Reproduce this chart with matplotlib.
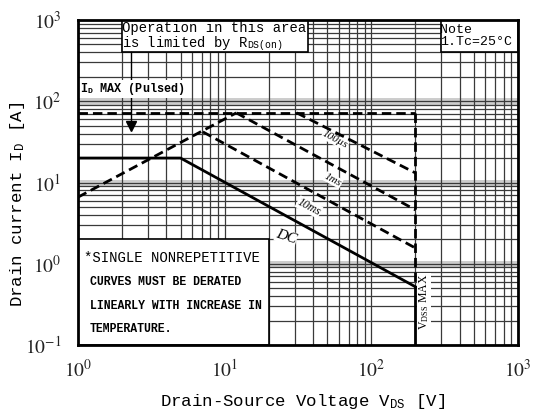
import matplotlib
matplotlib.use("Agg")
import matplotlib.pyplot as plt
from matplotlib.ticker import LogLocator, NullFormatter
from matplotlib.patches import Rectangle

# ---------------- data ----------------
rds_v = [1, 12]
rds_i = [6.6, 72]
id_max_pulsed = 72
vdss_max = 200

us100_v = [31, 200]
us100_i = [72, 13.1]
ms1_v = [12, 200]
ms1_i = [72, 4.6]
ms10_v = [7.1, 200]
ms10_i = [42, 1.56]
dc_v = [1, 5, 200]
dc_i = [20, 20, 0.52]

x_ticks = [1, 10, 100, 1000]
x_tick_labels = [r"$10^{0}$", r"$10^{1}$", r"$10^{2}$", r"$10^{3}$"]
y_ticks = [0.1, 1, 10, 100, 1000]
y_tick_labels = [r"$10^{-1}$", r"$10^{0}$", r"$10^{1}$", r"$10^{2}$", r"$10^{3}$"]

plt.rcParams['mathtext.fontset'] = 'stix'
MONO = 'Liberation Mono'

fig = plt.figure(figsize=(5.33, 4.11), dpi=100)
ax = fig.add_axes([78/533, 66/411, 440/533, 325/411])
ax.set_xscale('log')
ax.set_yscale('log')
ax.set_xlim(1, 1000)
ax.set_ylim(0.1, 1000)

# grid
ax.xaxis.set_minor_locator(LogLocator(base=10, subs=range(2, 10)))
ax.yaxis.set_minor_locator(LogLocator(base=10, subs=range(2, 10)))
ax.xaxis.set_minor_formatter(NullFormatter())
ax.yaxis.set_minor_formatter(NullFormatter())
for yv in y_ticks[1:-1]:
    ax.axhline(yv, color='#cccccc', lw=5, zorder=0.3)
ax.grid(which='both', color='#3a3a3a', lw=0.9, zorder=0.5)
ax.set_axisbelow(True)

ax.set_xticks(x_ticks)
ax.set_xticklabels(x_tick_labels)
ax.set_yticks(y_ticks)
ax.set_yticklabels(y_tick_labels)
ax.tick_params(which='both', length=0, labelsize=14, labelcolor='#222222')
ax.tick_params(axis='x', pad=10)
ax.tick_params(axis='y', pad=12)
for sp in ax.spines.values():
    sp.set_linewidth(2)
    sp.set_zorder(6)

# white boxes
box_kw = dict(facecolor='white', edgecolor='black', lw=1.2, zorder=2)
ax.add_patch(Rectangle((2, 400), 35, 600, **box_kw))
ax.add_patch(Rectangle((300, 400), 700, 600, **box_kw))
ax.add_patch(Rectangle((1, 0.1), 19, 1.9, **box_kw))

# curves
dash = dict(color='black', lw=2, ls=(0, (3.4, 1.8)), zorder=3)
ax.plot(rds_v, rds_i, **dash)
ax.plot([rds_v[0], vdss_max], [id_max_pulsed, id_max_pulsed], **dash)
ax.plot([vdss_max, vdss_max], [id_max_pulsed, dc_i[-1]], **dash)
ax.plot(us100_v, us100_i, **dash)
ax.plot(ms1_v, ms1_i, **dash)
ax.plot(ms10_v, ms10_i, **dash)
ax.plot(dc_v, dc_i, color='black', lw=2, zorder=3)
ax.plot([vdss_max, vdss_max], [dc_i[-1], 0.1], color='black', lw=2, zorder=3)

# arrow under ID MAX label
ax.plot([2.3, 2.3], [400, 52], color='black', lw=1, zorder=2.5)
ax.plot([2.3], [50], marker='v', color='black', ms=7, zorder=3)

def axfrac(px, py):
    return (px - 78) / 440, (345 - py) / 325

T = ax.transAxes
x, y = axfrac(122, 37)
ax.text(x, y, "Operation in this area\nis limited by R$_\\mathregular{DS(on)}$",
        transform=T, family=MONO, fontsize=10, va='center', ha='left',
        linespacing=1.0, zorder=4)
x, y = axfrac(440, 36)
ax.text(x, y, "Note\n1.Tc=25°C", transform=T, family=MONO, fontsize=9.5,
        va='center', ha='left', linespacing=1.0, zorder=4)
x, y = axfrac(80, 89)
ax.text(x, y, "I$_\\mathregular{D}$ MAX (Pulsed)", transform=T, family=MONO,
        fontsize=8.5, fontweight='bold', va='center', ha='left', zorder=4,
        bbox=dict(facecolor='white', edgecolor='none', pad=1))

x, y = axfrac(84, 258)
ax.text(x, y, "*SINGLE NONREPETITIVE", transform=T, family=MONO, fontsize=10,
        va='center', ha='left', zorder=4)
for txt, py in [("CURVES MUST BE DERATED", 282),
                ("LINEARLY WITH INCREASE IN", 306),
                ("TEMPERATURE.", 329)]:
    x, y = axfrac(90, py)
    ax.text(x, y, txt, transform=T, family=MONO, fontsize=8.3,
            fontweight='bold', va='center', ha='left', zorder=4)

x, y = axfrac(424, 302)
ax.text(x, y, "V$_\\mathregular{DSS}$ MAX", transform=T, family='Liberation Serif',
        fontsize=8.5, rotation=90, va='center', ha='center', zorder=4,
        bbox=dict(facecolor='white', edgecolor='none', pad=0.5))

lab_kw = dict(transform=T, family='Liberation Serif', style='italic',
              va='center', ha='center', zorder=4,
              bbox=dict(facecolor='white', edgecolor='none', pad=0.3))
x, y = axfrac(335, 140)
ax.text(x, y, "100µs", fontsize=8, rotation=-28, **lab_kw)
x, y = axfrac(333, 180)
ax.text(x, y, "1ms", fontsize=8, rotation=-28, **lab_kw)
x, y = axfrac(309, 207)
ax.text(x, y, "10ms", fontsize=8.5, rotation=-28, **lab_kw)
x, y = axfrac(286, 237)
ax.text(x, y, "DC", fontsize=11, rotation=-18, **lab_kw)

fig.text(18/533, 1 - 204/411, "Drain current I$_\\mathregular{D}$ [A]",
         family=MONO, fontsize=12.5, rotation=90, va='center', ha='center')
fig.text(303/533, 1 - 401/411, "Drain-Source Voltage V$_\\mathregular{DS}$ [V]",
         family=MONO, fontsize=12.5, va='center', ha='center')

fig.savefig("out.png", dpi=100)
